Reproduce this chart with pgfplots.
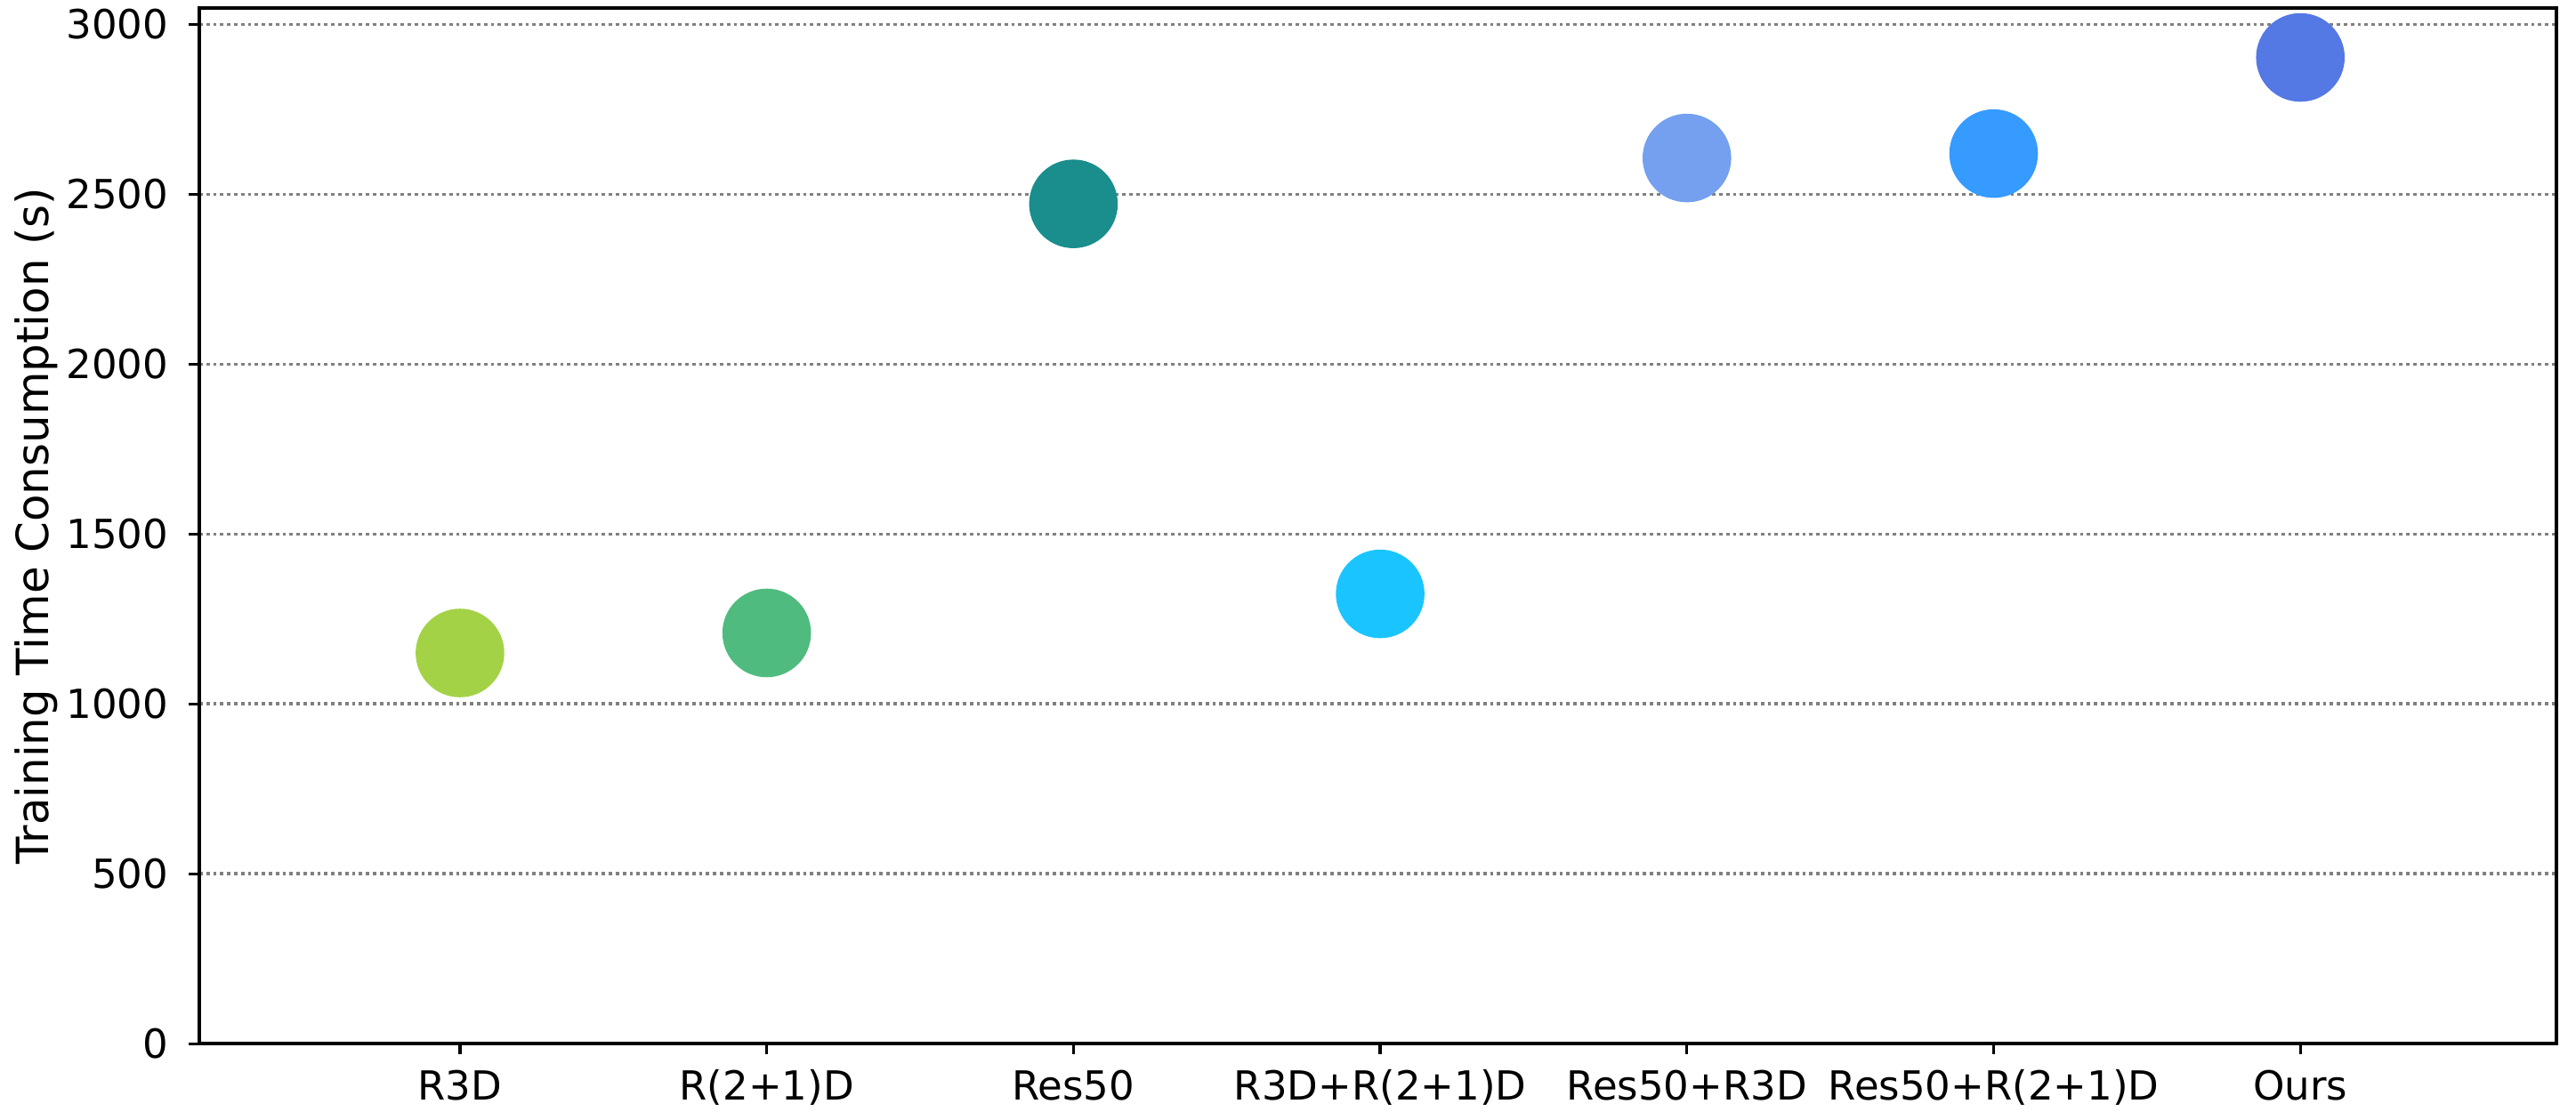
\documentclass[border=0pt]{standalone}
\usepackage{fontspec}
\setmainfont{DejaVu Sans}
\usepackage{pgfplots}
\pgfplotsset{compat=1.18}
\definecolor{c1}{RGB}{164,210,71}
\definecolor{c2}{RGB}{80,187,127}
\definecolor{c3}{RGB}{26,141,141}
\definecolor{c4}{RGB}{26,197,255}
\definecolor{c5}{RGB}{116,160,239}
\definecolor{c6}{RGB}{53,155,255}
\definecolor{c7}{RGB}{84,120,228}
\definecolor{gridgray}{RGB}{128,128,128}
\begin{document}
\begin{tikzpicture}
\begin{axis}[
  scale only axis,
  width=662.3bp, height=291bp,
  xmin=-0.85, xmax=6.835,
  ymin=0, ymax=3048,
  xtick={0,1,2,3,4,5,6},
  xticklabels={R3D,R(2+1)D,Res50,R3D+R(2+1)D,Res50+R3D,Res50+R(2+1)D,Ours},
  ytick={0,500,1000,1500,2000,2500,3000},
  /pgf/number format/assume math mode=true,
  scaled y ticks=false,
  yticklabel={\pgfmathprintnumber[fixed,precision=0,1000 sep={}]{\tick}},
  tick align=outside,
  major tick length=2.9bp,
  tick style={black, line width=0.8bp},
  xtick pos=bottom, ytick pos=left,
  axis line style={line width=1bp},
  ymajorgrids,
  major grid style={gridgray, line width=0.9bp, dash pattern=on 0.95bp off 1bp},
  axis on top,
  ticklabel style={font=\fontsize{11.3}{13}\selectfont, inner sep=0pt},
  xticklabel style={anchor=base, yshift=-13bp},
  yticklabel style={anchor=east, xshift=-5.6bp},
  ylabel={Training Time Consumption (s)},
  ylabel style={font=\fontsize{12.5}{14}\selectfont, at={(axis description cs:-0.0638,0.5)}, anchor=base, inner sep=0pt},
  clip=false,
]
\addplot[only marks, mark=*, mark size=12.25bp, color=c1, mark options={draw=none, fill=c1}] coordinates {(0,1150)};
\addplot[only marks, mark=*, mark size=12.25bp, color=c2, mark options={draw=none, fill=c2}] coordinates {(1,1209)};
\addplot[only marks, mark=*, mark size=12.25bp, color=c3, mark options={draw=none, fill=c3}] coordinates {(2,2472)};
\addplot[only marks, mark=*, mark size=12.25bp, color=c4, mark options={draw=none, fill=c4}] coordinates {(3,1324)};
\addplot[only marks, mark=*, mark size=12.25bp, color=c5, mark options={draw=none, fill=c5}] coordinates {(4,2607)};
\addplot[only marks, mark=*, mark size=12.25bp, color=c6, mark options={draw=none, fill=c6}] coordinates {(5,2620)};
\addplot[only marks, mark=*, mark size=12.25bp, color=c7, mark options={draw=none, fill=c7}] coordinates {(6,2903)};
\end{axis}
\pgfresetboundingbox
\path ([shift={(-55.98bp,-19.18bp)}]current axis.south west) rectangle ([shift={(5.48bp,2.3bp)}]current axis.north east);
\end{tikzpicture}
\end{document}
